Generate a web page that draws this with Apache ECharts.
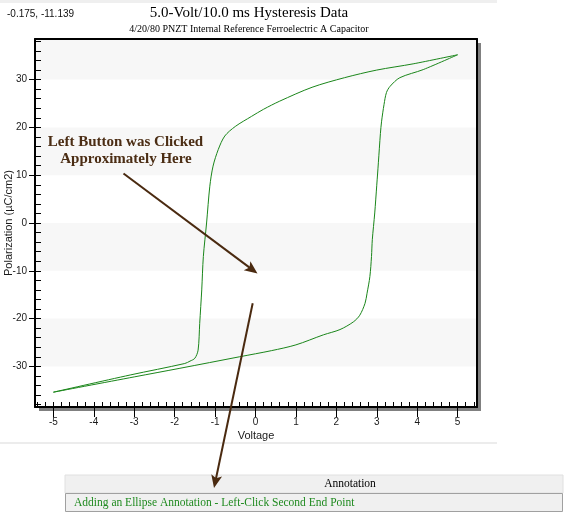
<!DOCTYPE html>
<html><head><meta charset="utf-8">
<script src="https://cdn.jsdelivr.net/npm/echarts@6/dist/echarts.min.js"></script>
<style>html,body{margin:0;padding:0;background:#fff;}#c{width:565px;height:513px;}</style>
</head><body><div id="c"></div>
<script>
// ---- data ----
const xTickLabels = [-5, -4, -3, -2, -1, 0, 1, 2, 3, 4, 5];
const yTickLabels = [-30, -20, -10, 0, 10, 20, 30];
const bandRanges = [[30, 38.5], [10, 20], [-10, 0], [-30, -20]];
// descending branch (+5 V -> -5 V)
const descV = [5.0, 3.9, 3.0, 2.2, 1.4, 0.6, 0.2, -0.1, -0.5, -0.76, -0.92, -1.05, -1.13, -1.21, -1.29, -1.33, -1.38, -1.42, -1.5, -1.62, -1.75, -3.1, -5.0];
const descP = [35.2, 33.3, 32.0, 30.4, 28.4, 25.5, 23.8, 22.3, 20.2, 18.2, 15.4, 11.9, 7.7, 0.0, -7.0, -14.0, -21.0, -26.6, -28.3, -28.9, -29.4, -31.8, -35.4];
// ascending branch (-5 V -> +5 V)
const ascV = [-5.0, -3.0, -1.87, -0.4, 0.4, 1.0, 1.68, 2.09, 2.42, 2.58, 2.71, 2.76, 2.83, 2.87, 2.89, 2.95, 3.0, 3.04, 3.09, 3.12, 3.18, 3.24, 3.33, 3.57, 4.15, 5.0];
const ascP = [-35.4, -32.2, -30.4, -28.0, -26.7, -25.5, -23.4, -22.3, -20.7, -19.3, -16.8, -14.7, -11.2, -7.0, -3.5, 2.1, 7.9, 12.6, 18.7, 21.3, 24.8, 27.3, 28.6, 30.4, 32.1, 35.2];

const xMin = -5.455, xMax = 5.48, yMin = -38.5, yMax = 38.5;
const xMinor = []; for (let i = -27; i <= 27; i++) xMinor.push(Math.round(i * 2) / 10);
const yMinor = []; for (let i = -19; i <= 19; i++) yMinor.push(i * 2);

const descData = descV.map((v, i) => [v, descP[i]]);
const ascData = ascV.map((v, i) => [v, ascP[i]]);

const sans = 'Liberation Sans, Arial, sans-serif';
const serif = 'Liberation Serif, Times New Roman, serif';
const brown = '#4a2a10';

function arrow(x1, y1, x2, y2) {
  const dx = x2 - x1, dy = y2 - y1, L = Math.hypot(dx, dy), ux = dx / L, uy = dy / L;
  const hl = 13, hw = 5.5, notch = 3;
  const bx = x2 - ux * hl, by = y2 - uy * hl;
  return [
    {type: 'line', z: 100, shape: {x1: x1, y1: y1, x2: bx + ux * 4, y2: by + uy * 4}, style: {stroke: brown, lineWidth: 2}},
    {type: 'polygon', z: 100, shape: {points: [[x2, y2], [bx - uy * hw, by + ux * hw], [bx + ux * notch, by + uy * notch], [bx + uy * hw, by - ux * hw]]}, style: {fill: brown}}
  ];
}

const chart = echarts.init(document.getElementById('c'), null, {renderer: 'canvas'});
const axisTxt = {fontSize: 10, color: '#1a1a1a', fontFamily: sans};
const lineBlack = {show: true, onZero: false, lineStyle: {color: '#000', width: 2}};
const noLine = {show: false, onZero: false};

chart.setOption({
  animation: false,
  backgroundColor: '#fff',
  grid: {left: 35, top: 39, width: 442, height: 368, show: true, backgroundColor: '#fff', borderWidth: 0,
         outerBoundsMode: 'none', containLabel: false,
         shadowColor: '#808080', shadowOffsetX: 4, shadowOffsetY: 4, shadowBlur: 0},
  xAxis: [
    {type: 'value', min: xMin, max: xMax, position: 'bottom', z: 10,
     axisLine: lineBlack,
     axisTick: {show: true, inside: false, length: 10, customValues: xTickLabels, lineStyle: {color: '#000', width: 1}},
     axisLabel: Object.assign({customValues: xTickLabels, margin: 10}, axisTxt),
     splitLine: {show: false},
     name: 'Voltage', nameLocation: 'middle', nameGap: 23, nameMoveOverlap: false,
     nameTextStyle: {fontSize: 11, color: '#1a1a1a', fontFamily: sans}},
    {type: 'value', min: xMin, max: xMax, position: 'bottom', z: 10,
     axisLine: noLine,
     axisTick: {show: true, inside: true, length: 5, customValues: xMinor, lineStyle: {color: '#000', width: 1}},
     axisLabel: {show: false}, splitLine: {show: false}},
    {type: 'value', min: xMin, max: xMax, position: 'top', z: 10,
     axisLine: lineBlack,
     axisTick: {show: false}, axisLabel: {show: false}, splitLine: {show: false}}
  ],
  yAxis: [
    {type: 'value', min: yMin, max: yMax, position: 'left', z: 10,
     axisLine: lineBlack,
     axisTick: {show: true, inside: false, length: 6, customValues: yTickLabels, lineStyle: {color: '#000', width: 1}},
     axisLabel: Object.assign({customValues: yTickLabels, margin: 8}, axisTxt),
     splitLine: {show: false},
     name: 'Polarization (\u00B5C/cm2)', nameLocation: 'middle', nameGap: 21, nameRotate: 90, nameMoveOverlap: false,
     nameTextStyle: {fontSize: 11, color: '#1a1a1a', fontFamily: sans}},
    {type: 'value', min: yMin, max: yMax, position: 'left', z: 10,
     axisLine: noLine,
     axisTick: {show: true, inside: true, length: 6, customValues: yMinor, lineStyle: {color: '#000', width: 1}},
     axisLabel: {show: false}, splitLine: {show: false}},
    {type: 'value', min: yMin, max: yMax, position: 'right', z: 10,
     axisLine: lineBlack,
     axisTick: {show: false}, axisLabel: {show: false}, splitLine: {show: false}}
  ],
  series: [
    {type: 'line', data: descData, xAxisIndex: 0, yAxisIndex: 0, showSymbol: false, smooth: 0.3,
     lineStyle: {color: '#1a861a', width: 1}, z: 3,
     markArea: {silent: true, itemStyle: {color: '#f7f7f7'},
       data: bandRanges.map(r => [{xAxis: xMin, yAxis: r[0]}, {xAxis: xMax, yAxis: r[1]}])}},
    {type: 'line', data: ascData, xAxisIndex: 0, yAxisIndex: 0, showSymbol: false, smooth: 0.3,
     lineStyle: {color: '#1a861a', width: 1}, z: 3}
  ],
  graphic: [
    {type: 'rect', z: 1, shape: {x: 0, y: 0, width: 497, height: 3}, style: {fill: '#efefef'}},
    {type: 'rect', z: 1, shape: {x: 0, y: 442, width: 497, height: 2}, style: {fill: '#ececec'}},
    {type: 'text', z: 100, style: {x: 7, y: 14, text: '-0.175, -11.139', font: '10px ' + sans, fill: '#111', verticalAlign: 'middle'}},
    {type: 'text', z: 100, style: {x: 249, y: 13, text: '5.0-Volt/10.0 ms Hysteresis Data', font: '15px ' + serif, fill: '#000', align: 'center', verticalAlign: 'middle'}},
    {type: 'text', z: 100, style: {x: 249, y: 29, text: '4/20/80 PNZT Internal Reference Ferroelectric A Capacitor', font: '10px ' + serif, fill: '#000', align: 'center', verticalAlign: 'middle'}},
    {type: 'text', z: 100, style: {x: 125.5, y: 142, text: 'Left Button was Clicked', font: 'bold 15px ' + serif, fill: '#4b2d14', align: 'center', verticalAlign: 'middle'}},
    {type: 'text', z: 100, style: {x: 126, y: 159, text: 'Approximately Here', font: 'bold 15px ' + serif, fill: '#4b2d14', align: 'center', verticalAlign: 'middle'}},
    {type: 'rect', z: 90, shape: {x: 65, y: 475, width: 498, height: 18}, style: {fill: '#f0f0f0', stroke: '#e0e0e0', lineWidth: 1}},
    {type: 'rect', z: 90, shape: {x: 65.5, y: 493.5, width: 497, height: 18}, style: {fill: '#f0f0f0', stroke: '#a0a0a0', lineWidth: 1}},
    {type: 'text', z: 95, style: {x: 350, y: 484, text: 'Annotation', font: '11.5px ' + serif, fill: '#000', align: 'center', verticalAlign: 'middle'}},
    {type: 'text', z: 95, style: {x: 74, y: 502.5, text: 'Adding an Ellipse Annotation - Left-Click Second End Point', font: '11.5px ' + serif, fill: '#1f8a1f', verticalAlign: 'middle'}}
  ].concat(arrow(123.5, 173.5, 257.5, 273.5)).concat(arrow(252.7, 303.3, 214, 488))
});
</script></body></html>
